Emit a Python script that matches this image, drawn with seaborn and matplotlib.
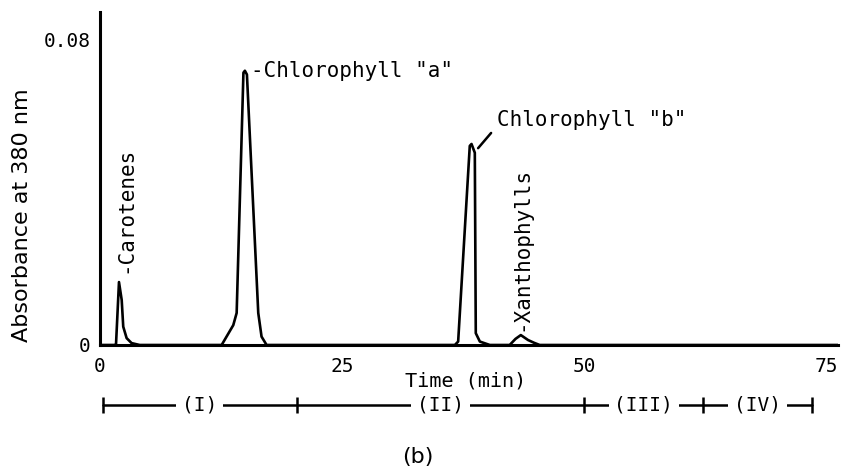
import numpy as np
import pandas as pd
import matplotlib
matplotlib.use("Agg")
import matplotlib.pyplot as plt
import seaborn as sns

# ---- traced chromatogram (time in min, absorbance at 380 nm) ----
start_t = [0.0, 1.5]
start_a = [0.0, 0.0]
carotenes_t = [1.65, 1.96, 2.24, 2.40, 2.75, 3.26, 4.1]
carotenes_a = [0.0, 0.0165, 0.0118, 0.0048, 0.0018, 0.0005, 0.0]
chl_a_t = [12.56, 13.76, 14.11, 14.81, 14.96, 15.17, 16.34, 16.68, 17.2]
chl_a_a = [0.0, 0.0052, 0.0084, 0.0714, 0.0719, 0.0709, 0.0084, 0.0022, 0.0]
chl_b_t = [36.64, 36.98, 38.18, 38.36, 38.70, 38.80, 39.22, 40.25]
chl_b_a = [0.0, 0.0009, 0.0522, 0.0527, 0.0504, 0.0031, 0.0009, 0.0]
xan_t = [42.3, 42.9, 43.45, 44.2, 44.8, 45.4]
xan_a = [0.0, 0.0016, 0.0026, 0.0013, 0.0006, 0.0]
end_t = [76.2]
end_a = [0.0]

x_ticks = [0, 25, 50, 62.5, 75]
x_ticklabels = ["0", "25", "50", "", "75"]
y_ticks = [0, 0.016, 0.032, 0.048, 0.064, 0.08]
y_ticklabels = ["0", "", "", "", "", "0.08"]

region_bounds = [0.3, 20.3, 50.0, 62.3, 73.5]
region_labels = ["(I)", "(II)", "(III)", "(IV)"]

peak_labels = ["-Carotenes", '-Chlorophyll "a"', 'Chlorophyll "b"', "-Xanthophylls"]

# ---- build dataframe ----
t_all = start_t + carotenes_t + chl_a_t + chl_b_t + xan_t + end_t
a_all = start_a + carotenes_a + chl_a_a + chl_b_a + xan_a + end_a
df = pd.DataFrame({"time": t_all, "abs": a_all})

sns.set_style("white")
plt.rcParams["font.family"] = ["DejaVu Sans Mono", "DejaVu Sans"]
plt.rcParams["text.color"] = "black"
plt.rcParams["xtick.color"] = "black"
plt.rcParams["ytick.color"] = "black"
plt.rcParams["axes.labelcolor"] = "black"

fig = plt.figure(figsize=(8.47, 4.76), dpi=100)
ax = fig.add_axes([100 / 847, 1 - 345 / 476, 738 / 847, 333 / 476])

sns.lineplot(data=df, x="time", y="abs", sort=False, estimator=None,
             color="black", linewidth=1.9, ax=ax)

ax.set_xlim(0, 76.2)
ax.set_ylim(0, 0.0873)
sns.despine(ax=ax)
for s in ["left", "bottom"]:
    ax.spines[s].set_color("black")
    ax.spines[s].set_linewidth(2.2)

ax.set_xticks(x_ticks)
ax.set_xticklabels(x_ticklabels)
ax.set_yticks(y_ticks)
ax.set_yticklabels(y_ticklabels)
ax.tick_params(axis="both", direction="in", length=7, width=1.8,
               colors="black", labelcolor="black", labelsize=14, pad=7)
ax.tick_params(axis="x", pad=9)
ax.set_xlabel("")
ax.set_ylabel("")

# axis titles
fig.text(466 / 847, 1 - 381 / 476, "Time (min)", ha="center", va="center",
         fontsize=14.5, color="black")
fig.text(22 / 847, 1 - 215 / 476, "Absorbance at 380 nm", rotation=90,
         ha="center", va="center", fontsize=16, family="DejaVu Sans",
         color="black")
fig.text(418 / 847, 1 - 457 / 476, "(b)", ha="center", va="center",
         fontsize=16, family="DejaVu Sans", color="black")

# peak labels
ax.text(2.6, 0.0190, peak_labels[0], rotation=90, ha="center", va="bottom",
        fontsize=15, color="black")
ax.text(15.6, 0.0719, peak_labels[1], ha="left", va="center", fontsize=15,
        color="black")
ax.annotate(peak_labels[2], xy=(39.04, 0.0516), xytext=(41.0, 0.0590),
            ha="left", va="center", fontsize=15, color="black",
            arrowprops=dict(arrowstyle="-", color="black", lw=1.8,
                            shrinkA=3, shrinkB=0, relpos=(0, 0.2)))
ax.text(43.55, 0.0036, peak_labels[3], rotation=90, ha="center", va="bottom",
        fontsize=15, color="black")

# region bracket below the axis
xt = ax.get_xaxis_transform()
yb = -0.180
ax.plot([region_bounds[0], region_bounds[-1]], [yb, yb], color="black",
        lw=1.8, transform=xt, clip_on=False)
ax.plot(region_bounds, [yb] * len(region_bounds), linestyle="none",
        marker="|", markersize=11, markeredgewidth=1.8, color="black",
        transform=xt, clip_on=False)
for lo, hi, lab in zip(region_bounds[:-1], region_bounds[1:], region_labels):
    ax.text((lo + hi) / 2, yb, lab, ha="center", va="center", fontsize=14,
            color="black", transform=xt, clip_on=False,
            bbox=dict(facecolor="white", edgecolor="none", pad=4))

fig.savefig("out.png", dpi=100)
